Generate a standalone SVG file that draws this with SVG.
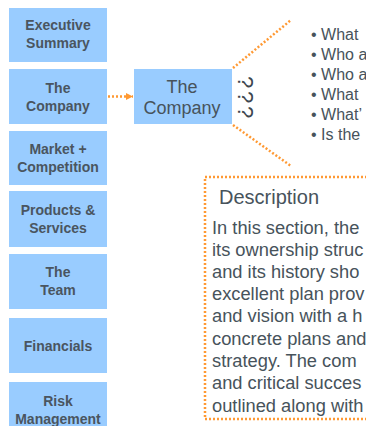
<svg xmlns="http://www.w3.org/2000/svg" width="366" height="426" viewBox="0 0 366 426">
<style>
.box{fill:#99ccff;}
.lbl{font-family:"Liberation Sans",Arial,sans-serif;font-size:14px;font-weight:bold;fill:#4a5560;text-anchor:middle;}
.mid{font-family:"Liberation Sans",Arial,sans-serif;font-size:18px;fill:#47535b;text-anchor:middle;}
.dot{fill:none;stroke:#ff9933;stroke-width:2.5;stroke-dasharray:2 2;}
.q{font-family:"Liberation Sans",Arial,sans-serif;font-size:22px;fill:#3d474f;text-anchor:middle;}
.bul{font-family:"Liberation Sans",Arial,sans-serif;font-size:16px;fill:#47535b;}
.body{font-family:"Liberation Sans",Arial,sans-serif;font-size:18.3px;fill:#47535b;}
.title{font-family:"Liberation Sans",Arial,sans-serif;font-size:20px;fill:#47535b;}
</style>
<defs>
<marker id="ah" viewBox="0 0 10 10" refX="10" refY="5" markerWidth="3" markerHeight="3" orient="auto" markerUnits="strokeWidth">
<path d="M0,0 L10,5 L0,10 Z" fill="#ff9933"/>
</marker>
</defs>
<rect width="366" height="426" fill="#ffffff"/>
<g id="executive-summary"><rect class="box" x="9" y="8" width="98" height="54"/><text class="lbl" x="58" y="30">Executive</text><text class="lbl" x="58" y="48">Summary</text></g>
<g id="the-company-nav"><rect class="box" x="9" y="69" width="98" height="55"/><text class="lbl" x="58" y="93">The</text><text class="lbl" x="58" y="111">Company</text></g>
<g id="market-competition"><rect class="box" x="9" y="131" width="98" height="54"/><text class="lbl" x="58" y="154">Market +</text><text class="lbl" x="58" y="172">Competition</text></g>
<g id="products-services"><rect class="box" x="9" y="191" width="98" height="56"/><text class="lbl" x="58" y="215">Products &amp;</text><text class="lbl" x="58" y="233">Services</text></g>
<g id="the-team"><rect class="box" x="9" y="254" width="98" height="55"/><text class="lbl" x="58" y="277">The</text><text class="lbl" x="58" y="295">Team</text></g>
<g id="financials"><rect class="box" x="9" y="318" width="98" height="55"/><text class="lbl" x="58" y="351">Financials</text></g>
<g id="risk-management"><rect class="box" x="9" y="382" width="98" height="60"/><text class="lbl" x="58" y="406">Risk</text><text class="lbl" x="58" y="424">Management</text></g>
<g id="the-company"><rect class="box" x="134" y="69" width="98" height="55"/><text class="mid" x="182" y="93">The</text><text class="mid" x="182" y="114">Company</text>
<text class="q" transform="translate(245,82) rotate(90)" y="7">?</text>
<text class="q" transform="translate(245,97) rotate(90)" y="7">?</text>
<text class="q" transform="translate(245,112) rotate(90)" y="7">?</text>
</g>
<g id="connectors">
<line class="dot" x1="108" y1="96.5" x2="133" y2="96.5" marker-end="url(#ah)"/>
<line class="dot" x1="233" y1="68" x2="291" y2="20"/>
<line class="dot" x1="233" y1="125" x2="291" y2="166"/>
</g>
<g id="questions">
<text class="bul" x="311" y="40">• What</text>
<text class="bul" x="311" y="60">• Who a</text>
<text class="bul" x="311" y="80">• Who a</text>
<text class="bul" x="311" y="100">• What</text>
<text class="bul" x="311" y="120">• What’</text>
<text class="bul" x="311" y="140">• Is the</text>
</g>
<g id="description">
<rect class="dot" x="205" y="177" width="200" height="242"/>
<text class="title" x="219" y="204">Description</text>
<text class="body" x="212" y="234">In this section, the</text>
<text class="body" x="212" y="256">its ownership struc</text>
<text class="body" x="212" y="278">and its history sho</text>
<text class="body" x="212" y="300">excellent plan prov</text>
<text class="body" x="212" y="322">and vision with a h</text>
<text class="body" x="212" y="345">concrete plans and</text>
<text class="body" x="212" y="367">strategy. The com</text>
<text class="body" x="212" y="389">and critical succes</text>
<text class="body" x="212" y="412">outlined along with</text>
</g>
</svg>
